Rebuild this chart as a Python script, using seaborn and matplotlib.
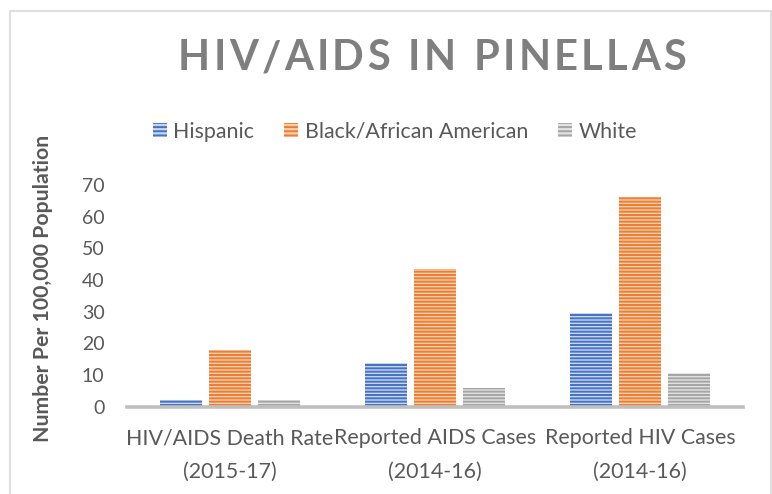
import matplotlib
matplotlib.use("Agg")
import matplotlib.pyplot as plt
import matplotlib.patches as mpatches
import seaborn as sns
import pandas as pd

# Rates per 100,000 population, Pinellas County
categories = ["HIV/AIDS Death Rate\n(2015-17)",
              "Reported AIDS Cases\n(2014-16)",
              "Reported HIV Cases\n(2014-16)"]
groups = ["Hispanic", "Black/African American", "White"]
hispanic = [2.0, 13.8, 29.5]
black = [17.9, 43.4, 66.3]
white = [2.0, 5.7, 10.7]

colors = ["#4472C4", "#ED7D31", "#A5A5A5"]
tints = ["#C9D6EE", "#F9CFB1", "#E2E2E2"]

TITLE = "HIV/AIDS IN PINELLAS"

df = pd.DataFrame({
    "category": categories * 3,
    "group": [g for g in groups for _ in categories],
    "value": hispanic + black + white,
})

sns.set_theme(style="white")
plt.rcParams["font.family"] = ["Lato", "DejaVu Sans"]
plt.rcParams["hatch.linewidth"] = 1.4

W, H = 772, 494
fig = plt.figure(figsize=(W / 100, H / 100), dpi=100)
ax = fig.add_axes([127.3 / W, (H - 406.5) / H, 615.4 / W, 221.5 / H])

sns.barplot(data=df, x="category", y="value", hue="group", hue_order=groups,
            order=categories, palette=colors, saturation=1, width=0.717, gap=0.157,
            ax=ax, legend=False, errorbar=None)

# horizontal-stripe fill for every bar
for patch in ax.patches:
    fc = patch.get_facecolor()
    for c, t in zip(colors, tints):
        if matplotlib.colors.same_color(fc, c):
            patch.set_facecolor(t)
            patch.set_edgecolor(c)
            patch.set_linewidth(0)
            patch.set_hatch("-----")

ax.set_ylim(0, 70)
ax.set_xlim(-0.5, 2.5)
ax.set_yticks(range(0, 71, 10))
ax.tick_params(axis="both", length=0, colors="#595959")
ax.tick_params(axis="y", pad=16.5, labelsize=14)
ax.tick_params(axis="x", pad=15.5, labelsize=15.4)
for lab in ax.get_xticklabels():
    lab.set_linespacing(1.85)
ax.set_xlabel("")
ax.set_ylabel("Number Per 100,000 Population", fontsize=15.3, fontweight="bold",
              color="#595959")
ax.yaxis.set_label_coords(-(127.3 - 53) / 615.4, (406.5 - 288.5) / 221.5)
for side in ["left", "right", "top"]:
    ax.spines[side].set_visible(False)
ax.spines["bottom"].set_color("#BFBFBF")
ax.spines["bottom"].set_linewidth(2.6)

# legend
handles = [mpatches.Patch(facecolor=t, edgecolor=c, linewidth=0, hatch="----", label=g)
           for g, c, t in zip(groups, colors, tints)]
fig.legend(handles=handles, loc="center", bbox_to_anchor=(395 / W, 1 - 131.5 / H),
           ncol=3, frameon=False, fontsize=15.4, labelcolor="#595959",
           handlelength=0.65, handleheight=0.65, handletextpad=0.3, columnspacing=1.4)

# letter-spaced title
title_kw = dict(fontsize=30, fontweight="bold", color="#7F7F7F", va="center", ha="left")
renderer = fig.canvas.get_renderer()
chars = [fig.text(0, 1 - 58.5 / H, ch, **title_kw) for ch in TITLE]
widths = []
for t in chars:
    if t.get_text() == " ":
        t.set_text("I")
        w = t.get_window_extent(renderer).width * 0.9
        t.set_text("")
    else:
        w = t.get_window_extent(renderer).width
    widths.append(w)
span = 508.0
spacing = (span - sum(widths)) / (len(chars) - 1)
x = 178.0
for t, w in zip(chars, widths):
    t.set_x(x / W)
    x += w + spacing

# chart frame
fig.patches.append(mpatches.Rectangle((9.5 / W, -0.05), 761 / W, 1.05 - 11 / H,
                                      transform=fig.transFigure, fill=False,
                                      edgecolor="#D9D9D9", linewidth=1.2))

fig.savefig("out.png", dpi=100, facecolor="white")
